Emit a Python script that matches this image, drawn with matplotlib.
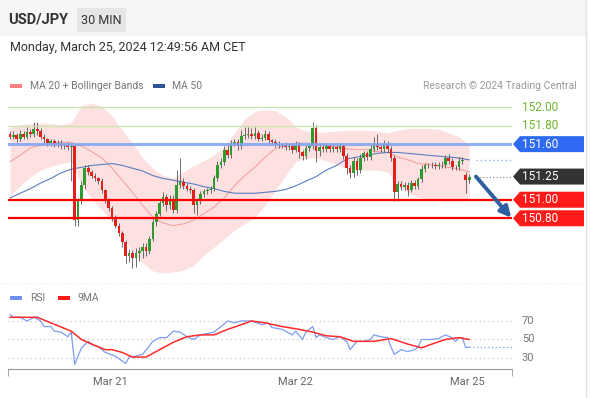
import numpy as np
import matplotlib.pyplot as plt
from matplotlib.patches import Polygon, Rectangle
from matplotlib.transforms import IdentityTransform
from matplotlib.lines import Line2D

plt.rcParams['font.family'] = ['Roboto', 'DejaVu Sans']

# ---- 30 min candles, USD/JPY ----
closes = [
    151.68, 151.70, 151.66, 151.71, 151.68, 151.73, 151.71, 151.76, 151.74, 151.68,
    151.65, 151.61, 151.63, 151.60, 151.61, 151.58, 151.59, 151.57, 151.58, 150.78,
    150.99, 151.16, 151.34, 151.30, 151.26, 151.23, 151.20, 151.10, 150.99, 150.91,
    150.80, 150.72, 150.64, 150.54, 150.39, 150.43, 150.37, 150.43, 150.45, 150.49,
    150.45, 150.58, 150.76, 150.85, 150.96, 151.03, 150.94, 151.01, 150.89, 151.16,
    151.19, 151.15, 151.12, 151.10, 150.94, 150.99, 151.06, 151.09, 151.10, 151.12,
    151.23, 151.37, 151.41, 151.54, 151.48, 151.61, 151.62, 151.58, 151.69, 151.70,
    151.71, 151.69, 151.72, 151.66, 151.67, 151.71, 151.64, 151.62, 151.60, 151.59,
    151.59, 151.57, 151.58, 151.54, 151.59, 151.51, 151.47, 151.56, 151.58, 151.77,
    151.53, 151.57, 151.55, 151.58, 151.55, 151.57, 151.55, 151.58, 151.47, 151.34,
    151.29, 151.42, 151.32, 151.45, 151.50, 151.46, 151.55, 151.60, 151.57, 151.55,
    151.60, 151.55, 151.45, 151.08, 151.17, 151.14, 151.16, 151.11, 151.18, 151.15,
    151.22, 151.33, 151.37, 151.37, 151.38, 151.36, 151.38, 151.37, 151.45, 151.42,
    151.35, 151.35, 151.42, 151.43, 151.21, 151.25]
first_open = 151.71
gap_opens = {134: 151.27}
# wick lengths in pips above / below the body
wick_up = [3, 4, 2, 4, 3, 5, 3, 8, 8, 3,  3, 2, 3, 2, 3, 3, 2, 3, 3, 2,
           3, 4, 3, 3, 2, 3, 2, 3, 2, 3,  2, 3, 3, 2, 3, 4, 3, 5, 4, 4,
           4, 3, 4, 3, 4, 5, 3, 4, 4, 16, 26, 4, 3, 3, 3, 3, 3, 3, 3, 3,
           4, 5, 4, 4, 5, 3, 4, 3, 6, 8,  7, 6, 6, 3, 4, 4, 3, 2, 3, 3,
           2, 3, 3, 3, 4, 3, 3, 3, 3, 7,  4, 3, 3, 3, 2, 3, 3, 3, 2, 3,
           3, 4, 3, 4, 3, 3, 4, 8, 11, 3, 4, 3, 3, 3, 3, 3, 3, 3, 3, 3,
           3, 4, 3, 3, 3, 3, 3, 4, 3, 4,  3, 3, 4, 3, 3, 3]
wick_dn = [3, 3, 4, 3, 3, 2, 3, 3, 4, 3,  4, 3, 3, 3, 3, 3, 3, 3, 37, 6,
           6, 4, 4, 3, 3, 3, 3, 3, 3, 3,  3, 3, 3, 5, 7, 6, 11, 10, 9, 8,
           6, 4, 3, 4, 3, 3, 6, 4, 3, 3,  3, 3, 3, 3, 8, 11, 4, 3, 3, 3,
           3, 3, 3, 3, 3, 3, 3, 4, 3, 3,  3, 3, 3, 3, 3, 3, 3, 3, 3, 3,
           3, 3, 3, 4, 3, 6, 4, 3, 3, 3,  12, 6, 3, 3, 3, 3, 3, 3, 3, 6,
           6, 4, 5, 3, 3, 3, 3, 3, 3, 3,  3, 3, 3, 9, 9, 3, 3, 7, 3, 3,
           3, 3, 3, 3, 3, 3, 3, 3, 3, 3,  3, 3, 3, 3, 14, 3]

# ---- indicators, sampled every 3 candles ----
ind_t = list(range(0, 136, 3))
ma20 = [151.41, 151.48, 151.56, 151.59, 151.61, 151.62, 151.62, 151.58, 151.52, 151.45,
        151.34, 151.21, 151.08, 150.94, 150.81, 150.75, 150.72, 150.74, 150.78, 150.85,
        150.92, 151.02, 151.15, 151.26, 151.35, 151.46, 151.55, 151.59, 151.61, 151.61,
        151.60, 151.58, 151.57, 151.55, 151.54, 151.54, 151.52, 151.51, 151.46, 151.43,
        151.39, 151.38, 151.37, 151.35, 151.33, 151.30]
bb_up = [151.78, 151.81, 151.82, 151.83, 151.82, 151.81, 151.83, 152.02, 152.04, 152.01,
         151.90, 151.75, 151.61, 151.45, 151.34, 151.26, 151.24, 151.30, 151.37, 151.42,
         151.48, 151.58, 151.72, 151.87, 151.95, 151.97, 151.96, 151.90, 151.79, 151.74,
         151.73, 151.73, 151.74, 151.75, 151.75, 151.75, 151.74, 151.72, 151.75, 151.77,
         151.77, 151.77, 151.76, 151.72, 151.68, 151.59]
bb_low = [151.04, 151.15, 151.25, 151.32, 151.36, 151.39, 151.41, 151.16, 151.01, 150.89,
          150.76, 150.61, 150.43, 150.32, 150.23, 150.21, 150.22, 150.24, 150.29, 150.40,
          150.49, 150.58, 150.67, 150.74, 150.81, 150.94, 151.10, 151.26, 151.41, 151.45,
          151.45, 151.42, 151.38, 151.34, 151.32, 151.32, 151.32, 151.30, 151.15, 151.07,
          151.03, 151.01, 150.99, 150.99, 150.99, 151.02]
ma50 = [151.02, 151.07, 151.12, 151.18, 151.23, 151.29, 151.33, 151.35, 151.37, 151.38,
        151.39, 151.37, 151.34, 151.31, 151.26, 151.23, 151.21, 151.19, 151.17, 151.14,
        151.12, 151.09, 151.07, 151.07, 151.07, 151.08, 151.09, 151.11, 151.15, 151.20,
        151.25, 151.32, 151.37, 151.44, 151.46, 151.48, 151.50, 151.51, 151.51, 151.50,
        151.49, 151.48, 151.47, 151.46, 151.45, 151.43]

rsi_t = [0, 1, 3, 5, 7, 9, 10, 12, 13, 15, 17, 18, 19, 21, 23, 24, 26, 28, 31, 34,
         35, 37, 39, 42, 44, 46, 48, 50, 52, 54, 56, 60, 62, 64, 66, 68, 71, 74, 76, 77,
         80, 83, 84, 86, 87, 89, 90, 91, 93, 95, 97, 99, 100, 102, 104, 106, 107, 109, 111, 112,
         113, 115, 117, 119, 120, 121, 124, 126, 128, 130, 131, 132, 133, 134, 135]
rsi = [77, 74, 74, 70, 74, 70, 64, 64, 59, 58, 53, 58, 23, 41, 48, 45, 42, 36, 32, 24,
       31, 32, 34, 48, 52, 52, 59, 58, 53, 50, 55, 58, 64, 70, 68, 70, 70, 66, 68, 63,
       61, 55, 59, 50, 58, 64, 52, 55, 52, 50, 53, 48, 39, 48, 48, 50, 55, 53, 52, 42,
       34, 39, 37, 39, 42, 50, 50, 51, 55, 52, 48, 52, 52, 41, 42]
rsi_ma_t = [0, 8, 12, 18, 21, 24, 28, 30, 33, 36, 40, 44, 48, 52, 56, 60, 64, 68, 71, 75,
            80, 85, 89, 93, 97, 101, 107, 112, 117, 121, 124, 128, 132, 135]
rsi_ma = [74, 74, 68, 59, 50, 45, 39, 39, 36, 31, 31, 39, 47, 53, 55, 55, 61, 66, 70, 68,
          64, 61, 58, 54, 53, 48, 48, 51, 45, 41, 45, 50, 52, 50]

resist = [152.00, 151.80]
pivot = 151.60
supports = [151.00, 150.80]
last_price = 151.25
tick_pos = [29.6, 83.8, 134.6]
tick_lbl = ['Mar 21', 'Mar 22', 'Mar 25']

W, H = 590, 398
fig = plt.figure(figsize=(W / 100, H / 100), dpi=100)
def fx(px): return px / W
def fy(py): return 1 - py / H

# header
fig.add_artist(Rectangle((0, fy(36)), fx(586), 36 / H, color='#f6f6f6', lw=0, zorder=0))
fig.add_artist(Rectangle((fx(77), fy(32)), fx(49), 24 / H, color='#e6e6e6', lw=0, zorder=1))
fig.add_artist(Line2D([fx(586), fx(586)], [0, 1], color='#e2e2e2', lw=1))
fig.add_artist(Line2D([0, fx(586)], [fy(283), fy(283)], color='#e6e6e6', lw=0.8, ls=(0, (1, 2))))
fig.text(fx(8), fy(20), 'USD/JPY', fontsize=10.5, fontweight='bold', color='#333333', va='center')
fig.text(fx(101.5), fy(20), '30 MIN', fontsize=9, color='#333333', va='center', ha='center')
fig.text(fx(10), fy(48), 'Monday, March 25, 2024 12:49:56 AM CET', fontsize=9, color='#333333', va='center')

# legends
fig.add_artist(Rectangle((fx(10), fy(88)), fx(12), 4 / H, color='#ff8080', lw=0))
fig.text(fx(30), fy(86), 'MA 20 + Bollinger Bands', fontsize=7.5, color='#777777', va='center')
fig.add_artist(Rectangle((fx(153), fy(88)), fx(12), 4 / H, color='#2f5597', lw=0))
fig.text(fx(172), fy(86), 'MA 50', fontsize=7.5, color='#777777', va='center')
fig.text(fx(577), fy(86), 'Research \u00a9 2024 Trading Central', fontsize=7.5, color='#9a9a9a',
         va='center', ha='right')
fig.add_artist(Rectangle((fx(10), fy(300)), fx(12), 4 / H, color='#6f93ea', lw=0))
fig.text(fx(30), fy(298), 'RSI', fontsize=7.5, color='#777777', va='center')
fig.add_artist(Rectangle((fx(58), fy(300)), fx(12), 4 / H, color='#ff1a1a', lw=0))
fig.text(fx(78), fy(298), '9MA', fontsize=7.5, color='#777777', va='center')

# ---- price panel ----
ax = fig.add_axes([fx(8), fy(285), (512 - 8) / W, (285 - 95) / H])
xlim = (-0.6, 147.6)
ax.set_xlim(*xlim)
ax.set_ylim(150.08, 152.13)
ax.axis('off')

ax.fill_between(ind_t, bb_low, bb_up, color='#fde0e0', lw=0, zorder=1)
ax.plot(ind_t, ma20, color='#f5a3a3', lw=0.8, zorder=2)
ax.plot(ind_t, ma50, color='#5a7fc2', lw=0.8, zorder=2)

n = len(closes)
idx = np.arange(n)
opens = [first_open] + closes[:-1]
for k, v in gap_opens.items():
    opens[k] = v
o = np.array(opens)
c = np.array(closes)
hi = np.maximum(o, c) + np.array(wick_up) / 100
lo = np.minimum(o, c) - np.array(wick_dn) / 100
ax.vlines(idx, lo, hi, color='#555555', lw=0.6, zorder=3)
body = np.maximum(np.abs(c - o), 0.006)
cols = np.where(c >= o, '#2f9a2f', '#e3211c')
ax.bar(idx, body, bottom=np.minimum(o, c), width=0.8, color=cols, lw=0, zorder=4)

for r in resist:
    ax.axhline(r, color='#c8e6aa', lw=0.9, zorder=5)
ax.axhline(pivot, color='#7fa3f5', lw=2.2, alpha=0.85, zorder=5)
for s in supports:
    ax.axhline(s, color='#ff0000', lw=1.6, zorder=5)
ax.plot([n + 1, xlim[1]], [last_price, last_price], color='#888888', lw=0.8, ls=(0, (1, 2)), zorder=5)
ax.plot([n + 1, xlim[1]], [ma50[-1], ma50[-1]], color='#8fb0f5', lw=1, ls=(0, (1, 2)), zorder=5)
ax.annotate('', xy=(xlim[1] - 0.2, supports[1] + 0.005), xytext=(n + 1, last_price),
            arrowprops=dict(arrowstyle='-|>', color='#2e5f9e', lw=2.8, mutation_scale=16,
                            shrinkA=0, shrinkB=0),
            annotation_clip=False, zorder=6)

def tag(price, color):
    _, yd = ax.transData.transform((0, price))
    pts = [(513, yd), (520, yd + 8), (584, yd + 8), (584, yd - 8), (520, yd - 8)]
    fig.add_artist(Polygon(pts, closed=True, color=color, lw=0, transform=IdentityTransform()))
    fig.text(fx(522), yd / H, f'{price:.2f}', color='white', fontsize=8.5, va='center')

for r in resist:
    _, yd = ax.transData.transform((0, r))
    fig.text(fx(522), yd / H, f'{r:.2f}', color='#6cb52d', fontsize=8.5, va='center')
tag(pivot, '#2f6bf2')
tag(last_price, '#333333')
for s in supports:
    tag(s, '#ff1a1a')

# ---- RSI panel ----
ar = fig.add_axes([fx(8), fy(369), (512 - 8) / W, (369 - 308) / H])
ar.set_xlim(*xlim)
ar.set_ylim(18.1, 84.05)
for lev in (30, 50, 70):
    ar.axhline(lev, color='#bbbbbb', lw=0.8, ls=(0, (1, 3)))
    _, yd = ar.transData.transform((0, lev))
    fig.text(fx(522), yd / H, str(lev), color='#777777', fontsize=8, va='center')
ar.plot(rsi_t, rsi, color='#7b9cf0', lw=0.9)
ar.plot([rsi_t[-1], xlim[1]], [rsi[-1], rsi[-1]], color='#7b9cf0', lw=0.9, ls=(0, (1, 2)))
ar.plot(rsi_ma_t, rsi_ma, color='#ff2a2a', lw=1.1)
for sp in ('top', 'left', 'right'):
    ar.spines[sp].set_visible(False)
ar.spines['bottom'].set_color('#999999')
ar.set_yticks([])
ar.set_xticks(tick_pos)
ar.set_xticklabels(tick_lbl)
ar.tick_params(axis='x', which='major', length=0, pad=6, labelsize=8, labelcolor='#666666')
ar.set_xticks([xlim[0], xlim[1]], minor=True)
ar.tick_params(axis='x', which='minor', length=5, color='#999999')

fig.savefig('out.png', dpi=100)
